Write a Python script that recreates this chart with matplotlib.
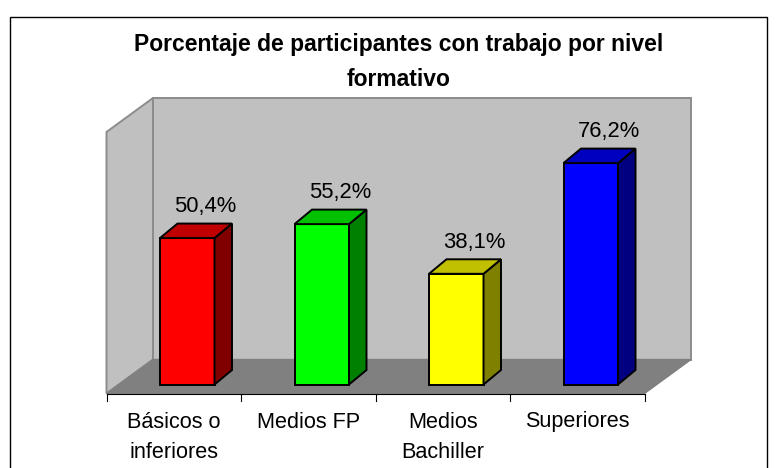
import matplotlib
matplotlib.use("Agg")
import matplotlib.pyplot as plt
from matplotlib.patches import Polygon, Rectangle
from matplotlib.transforms import ScaledTranslation

categories = ["Básicos o\ninferiores", "Medios FP", "Medios\nBachiller", "Superiores"]
values = [50.4, 55.2, 38.1, 76.2]
labels = ["50,4%", "55,2%", "38,1%", "76,2%"]
front = ["#ff0000", "#00ff00", "#ffff00", "#0000ff"]
top = ["#c00000", "#00c000", "#c0c000", "#0000c0"]
side = ["#800000", "#008000", "#808000", "#000080"]
title = "Porcentaje de participantes con trabajo por nivel\nformativo"

W, H = 776, 468
plt.rcParams["font.family"] = ["Liberation Sans", "DejaVu Sans"]
fig = plt.figure(figsize=(W / 100, H / 100), dpi=100, facecolor="white")
bg = fig.add_axes([0, 0, 1, 1])
bg.set_xlim(0, W); bg.set_ylim(H, 0); bg.axis("off")
bg.add_patch(Rectangle((9.5, 16.5), 757, 460, fc="white", ec="black", lw=1, clip_on=True))

# chart frame (pixels)
L, R, B, T = 106.5, 644.5, 393.5, 132
DX, DY = 46.5, 34
wall = "#c0c0c0"; floor = "#808080"; edge = "#8c8c8c"
bg.add_patch(Polygon([(L+DX, T-DY), (R+DX, T-DY), (R+DX, B-DY), (L+DX, B-DY)], fc=wall, ec=edge, lw=1.4))
bg.add_patch(Polygon([(L, T), (L+DX, T-DY), (L+DX, B-DY), (L, B)], fc=wall, ec=edge, lw=1.4))
bg.add_patch(Polygon([(L, B), (L+DX, B-DY), (R+DX, B-DY), (R, B)], fc=floor, ec=floor, lw=1))
bg.plot([L, R], [B, B], color="black", lw=0.8)
for i in range(5):
    x = L + i * (R - L) / 4
    bg.plot([x, x], [B, B + 7], color="black", lw=0.8)

ax = fig.add_axes([L / W, 1 - B / H, (R - L) / W, (B - T) / H])
ax.set_xlim(-0.5, 3.5); ax.set_ylim(0, 90); ax.axis("off"); ax.patch.set_alpha(0)

def px(dx, dy):
    return ax.transData + ScaledTranslation(dx / 100, -dy / 100, fig.dpi_scale_trans)

width = 54.5 / 134.5
off = (13.5, -9)
ddx, ddy = 17.5, -14.5
ink = "black"
for i, v in enumerate(values):
    x0, x1 = i - width / 2, i + width / 2
    t = px(*off)
    ax.add_patch(Rectangle((x0, 0), x1 - x0, v, fc=front[i], ec=ink, lw=1.4, transform=t, clip_on=False))
    t2 = px(off[0] + ddx, off[1] + ddy)
    xa, ya = t.transform((x1, 0)), t.transform((x1, v))
    xb, yb = t2.transform((x1, 0)), t2.transform((x1, v))
    xc, xd = t.transform((x0, v)), t2.transform((x0, v))
    inv = fig.transFigure.inverted()
    fig.add_artist(Polygon(inv.transform([ya, yb, xb, xa]), fc=side[i], ec=ink, lw=1.4, transform=fig.transFigure))
    fig.add_artist(Polygon(inv.transform([xc, xd, yb, ya]), fc=top[i], ec=ink, lw=1.4, transform=fig.transFigure))
    ax.text(i, v, labels[i], transform=px(off[0] + 18, off[1] - 21), ha="center", va="bottom", fontsize=15.8, color="black", clip_on=False)
    ax.text(i, 0, categories[i], transform=ax.get_xaxis_transform() + ScaledTranslation(0, -18 / 100, fig.dpi_scale_trans),
            ha="center", va="top", fontsize=15.6, linespacing=1.6, clip_on=False)

fig.text(399 / W, 1 - 62 / H, title, ha="center", va="center", fontsize=16.5, fontweight="bold", linespacing=1.62)
fig.savefig("out.png", dpi=100)
